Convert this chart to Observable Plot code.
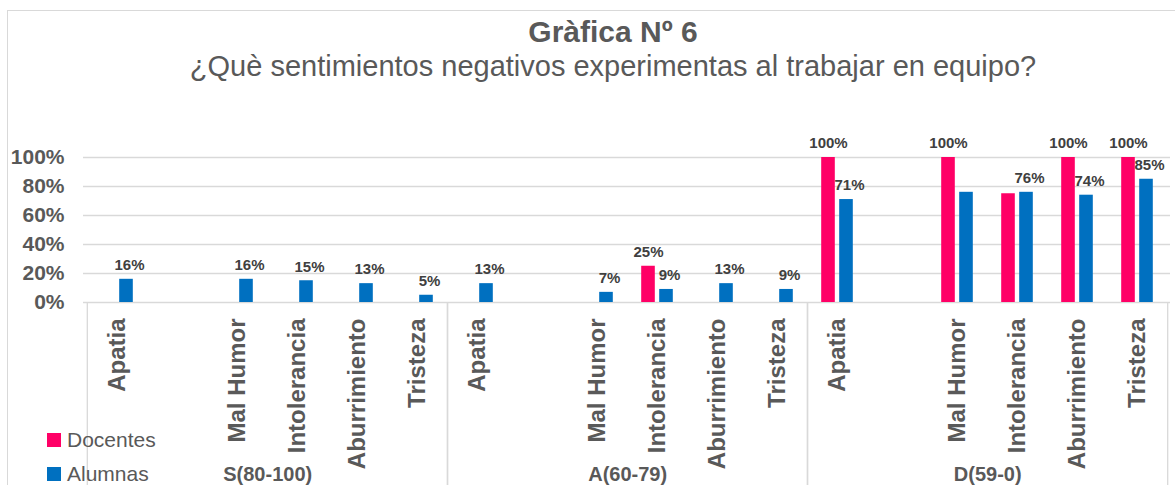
<!DOCTYPE html>
<html>
<head>
<meta charset="utf-8">
<script src="https://cdn.jsdelivr.net/npm/d3@7"></script>
<script src="https://cdn.jsdelivr.net/npm/@observablehq/plot@0.6"></script>
<style>
  body { margin: 0; background: #fff; font-family: "Liberation Sans", Arial, sans-serif; }
  #wrap { position: relative; width: 1175px; height: 485px; overflow: hidden; background: #fff; }
  #frame { position: absolute; left: 7px; top: 10px; width: 1300px; height: 600px;
           border-top: 1.5px solid #D9D9D9; border-left: 1.5px solid #D9D9D9; }
  #title { position: absolute; left: 313px; width: 600px; top: 17px; text-align: center;
           font-weight: bold; font-size: 30px; line-height: 30px; color: #595959; white-space: nowrap; }
  #subtitle { position: absolute; left: 113px; width: 1000px; top: 52px; text-align: center;
              font-size: 29px; line-height: 29px; color: #595959; white-space: nowrap; }
  #chart { position: absolute; left: 0; top: 110px; }
  #legend { position: absolute; left: 47px; top: 428px; font-size: 21px; color: #595959; }
  .item { display: flex; align-items: center; height: 24px; margin-bottom: 10px; }
  .sw { width: 14px; height: 14px; margin-right: 6px; }
</style>
</head>
<body>
<div id="wrap">
  <div id="frame"></div>
  <div id="title"></div>
  <div id="subtitle"></div>
  <div id="chart"></div>
  <div id="legend"></div>
</div>
<script>
const titleText = "Gràfica Nº 6";
const subtitleText = "¿Què sentimientos negativos experimentas al trabajar en equipo?";
const groups = ["S(80-100)", "A(60-79)", "D(59-0)"];
const feelings = ["Apatia", "", "Mal Humor", "Intolerancia", "Aburrimiento", "Tristeza"];
const series = ["Docentes", "Alumnas"];
const colors = ["#FF0066", "#0070C0"];
// values in percent, per group, in the order of `feelings`
const docentesS = [0, 0, 0, 0, 0, 0];
const alumnasS  = [16, 0, 16, 15, 13, 5];
const docentesA = [0, 0, 0, 25, 0, 0];
const alumnasA  = [13, 0, 7, 9, 13, 9];
const docentesD = [100, 0, 100, 75, 100, 100];
const alumnasD  = [71, 0, 76, 76, 74, 85];
const yTicks = [0, 20, 40, 60, 80, 100];
// data labels not shown in the original
const hiddenLabels = ["D(59-0)|Mal Humor|Alumnas", "D(59-0)|Intolerancia|Docentes"];

document.getElementById("title").textContent = titleText;
document.getElementById("subtitle").textContent = subtitleText;

const valuesByGroup = {
  "S(80-100)": [docentesS, alumnasS],
  "A(60-79)": [docentesA, alumnasA],
  "D(59-0)": [docentesD, alumnasD]
};
const keyOf = (g, i) => `${g}|${i}|${feelings[i]}`;
const keys = groups.flatMap(g => feelings.map((f, i) => keyOf(g, i)));
const rows = [];
groups.forEach(g => feelings.forEach((f, i) => series.forEach((s, si) => {
  rows.push({key: keyOf(g, i), group: g, feeling: f, series: s, value: valuesByGroup[g][si][i]});
})));

const W = 1175, H = 375, mL = 83, mR = 5, mT = 47, mB = 183;
const bw = (W - mL - mR) / keys.length;
const barW = 14, gap = 2;
const docRows = rows.filter(d => d.series === "Docentes");
const aluRows = rows.filter(d => d.series === "Alumnas");
const shown = d => d.value > 0 && !hiddenLabels.includes(`${d.group}|${d.feeling}|${d.series}`);

const plot = Plot.plot({
  width: W, height: H,
  marginLeft: mL, marginRight: mR, marginTop: mT, marginBottom: mB,
  style: {fontFamily: "'Liberation Sans', Arial, sans-serif", color: "#595959", background: "transparent", overflow: "visible"},
  x: {domain: keys, padding: 0, label: null},
  y: {domain: [0, 100], label: null},
  marks: [
    Plot.ruleY(yTicks, {stroke: "#D9D9D9", strokeWidth: 1.3}),
    Plot.ruleX(groups, {x: g => keyOf(g, 0), dx: -bw / 2, y1: 0, y2: 0, insetBottom: -mB, stroke: "#D9D9D9", strokeWidth: 1.3}),
    Plot.ruleX(groups, {x: g => keyOf(g, feelings.length - 1), dx: bw / 2, y1: 0, y2: 0, insetBottom: -mB, stroke: "#D9D9D9", strokeWidth: 1.3}),
    Plot.axisY({ticks: yTicks, tickFormat: d => d + "%", tickSize: 0, tickPadding: 19, fontSize: 21, fontWeight: "bold", label: null}),
    Plot.axisX({tickRotate: -90, tickSize: 0, tickPadding: 16, fontSize: 24, fontWeight: "bold",
                tickFormat: k => k.split("|")[2], label: null}),
    Plot.barY(docRows, {x: "key", y: "value", fill: colors[0],
                        insetLeft: bw / 2 - gap - barW, insetRight: bw / 2 + gap}),
    Plot.barY(aluRows, {x: "key", y: "value", fill: colors[1],
                        insetLeft: bw / 2 + gap, insetRight: bw / 2 - gap - barW}),
    Plot.text(docRows.filter(shown), {x: "key", y: "value", text: d => d.value + "%",
                          dx: -(gap + barW / 2), dy: -14, fontSize: 15, fontWeight: "bold", fill: "#404040"}),
    Plot.text(aluRows.filter(shown), {x: "key", y: "value", text: d => d.value + "%",
                          dx: gap + barW / 2 + 3, dy: -14, fontSize: 15, fontWeight: "bold", fill: "#404040"}),
    Plot.text(groups, {x: g => keyOf(g, 2), y: () => 0, text: g => g, dx: bw / 2, dy: 172,
                       fontSize: 20, fontWeight: "bold", fill: "#595959"})
  ]
});
document.getElementById("chart").appendChild(plot);

const legend = document.getElementById("legend");
series.forEach((s, i) => {
  const item = document.createElement("div");
  item.className = "item";
  const sw = document.createElement("div");
  sw.className = "sw";
  sw.style.background = colors[i];
  const t = document.createElement("span");
  t.textContent = s;
  item.appendChild(sw); item.appendChild(t);
  legend.appendChild(item);
});
</script>
</body>
</html>
